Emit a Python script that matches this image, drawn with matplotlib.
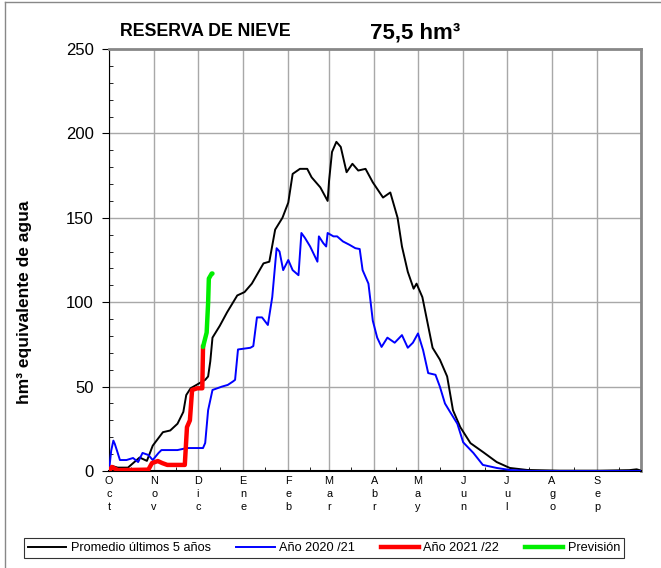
import matplotlib
matplotlib.use("Agg")
import matplotlib.pyplot as plt
from matplotlib.lines import Line2D
import numpy as np

plt.rcParams['font.family'] = ['Liberation Sans', 'DejaVu Sans']

# Days since 1 October
month_starts = [0, 31, 61, 92, 123, 151, 182, 212, 243, 273, 304, 335, 365]
month_labels = ["Oct", "Nov", "Dic", "Ene", "Feb", "Mar", "Abr", "May", "Jun", "Jul", "Ago", "Sep"]

avg_days = [0, 2, 6, 13, 21, 26, 30, 37, 42, 47, 51, 53, 56, 60, 66, 68, 69.5, 71, 76, 81, 88,
            93, 98, 102, 106, 110, 114, 119, 123, 126, 131, 136, 139, 145, 150, 151, 153,
            156, 159, 163, 167, 171, 176, 181, 188, 193, 198, 201, 205, 209, 211, 215, 222,
            227, 232, 236, 241, 248, 257, 266, 275, 287, 309, 337, 357, 362, 364]
avg_vals = [0, 3, 2, 2, 8, 6, 15, 23, 24, 28, 35, 45, 49, 51, 54, 56, 65, 79, 86, 94, 104,
            106, 111, 117, 123, 124, 143, 150, 159, 176, 179, 179, 174, 168, 160, 172, 189,
            195, 192, 177, 182, 178, 179, 171, 162, 165, 150, 133, 118, 108, 111, 103, 73,
            66, 56, 36, 26, 16.5, 11, 5.3, 1.8, 0.6, 0.2, 0.2, 0.5, 1.0, 0.5]

y2021_days = [0, 1.5, 3, 4, 5.5, 7.5, 12, 16.5, 20, 23, 27, 30, 34, 36, 47, 53.5, 64.5, 66,
              68, 71, 77.5, 81.5, 85, 86.5, 88.5, 97, 99, 101.5, 105, 109, 112, 115, 117,
              119.5, 123, 126, 130, 132, 134.5, 138, 143, 144, 147, 149, 150, 154, 156.5,
              160.5, 165, 169, 172, 174, 178, 181, 184, 187, 191, 196, 201, 205, 208.5, 212,
              215.5, 219, 224, 227, 230.5, 234, 239, 243, 250, 256.5, 266, 275, 290, 365]
y2021_vals = [0, 12, 18, 16, 12, 6.5, 6.5, 7.7, 5.3, 10.7, 9.5, 6.5, 10.7, 12.4, 12.4, 13.6,
              13.6, 16.6, 36, 48, 50, 51, 53, 54, 72, 73, 74, 91, 91, 86.5, 103, 132, 130,
              119, 125, 119, 116, 141, 138, 133, 124, 139, 135, 133, 141, 139, 139, 136, 134,
              132, 131.5, 119, 111, 89, 79, 73.5, 79, 76, 80.5, 73, 76, 81.5, 71.6, 58, 57,
              50, 40, 35, 28, 17, 10.7, 3.6, 1.8, 0.6, 0, 0]

y2122_days = [0, 2, 6, 27, 29.5, 31.5, 33.5, 36.5, 40, 43, 52, 53.5, 55.5, 57, 60.5, 64, 64.5]
y2122_vals = [0, 2.4, 0.5, 0.8, 4.7, 5.3, 5.9, 4.7, 3.6, 3.6, 3.6, 26, 30, 48, 49, 49, 73.5]

prev_days = [64.5, 67, 68, 68.5, 70.5, 71]
prev_vals = [73.5, 82, 99.5, 114, 117, 117]

fig = plt.figure(figsize=(6.61, 5.68), dpi=100)
ax = fig.add_axes([109 / 661, 1 - 471 / 568, 532 / 661, 422 / 568])

ax.set_xlim(0, 365)
ax.set_ylim(0, 250)

ax.set_xticks(month_starts)
ax.set_xticklabels([])
ax.set_xticks([d + 15 for d in month_starts[:-1]], minor=True)
ax.set_yticks([0, 50, 100, 150, 200, 250])
ax.set_yticks(np.arange(0, 251, 10), minor=True)
ax.tick_params(axis='y', which='major', labelsize=12, direction='out', length=5, pad=6)
ax.tick_params(axis='y', which='minor', direction='in', length=3)
ax.tick_params(axis='x', which='major', direction='in', length=0)
ax.tick_params(axis='x', which='minor', direction='in', length=3)

ax.grid(True, which='major', color='#a8a8a8', linewidth=1.0)
ax.set_axisbelow(True)

for s in ['top', 'right']:
    ax.spines[s].set_color('#888888')
    ax.spines[s].set_linewidth(2)
ax.spines['left'].set_color('black')
ax.spines['bottom'].set_color('black')
ax.spines['bottom'].set_linewidth(1.5)

ax.plot(avg_days, avg_vals, color='black', linewidth=1.4, zorder=3)
ax.plot(y2021_days, y2021_vals, color='#0000ff', linewidth=1.4, zorder=4)
ax.plot(y2122_days, y2122_vals, color='#ff0000', linewidth=3.2, zorder=5,
        solid_joinstyle='round')
ax.plot(prev_days, prev_vals, color='#00ee00', linewidth=3.2, zorder=5,
        solid_capstyle='round')

for d, lab in zip(month_starts[:-1], month_labels):
    ax.text(d, -3, "\n".join(lab), ha='center', va='top', fontsize=7.8,
            linespacing=1.4, transform=ax.transData, clip_on=False)

ax.set_ylabel("hm³ equivalente de agua", fontsize=12.5, fontweight='bold')
ax.yaxis.set_label_coords(-0.145, 0.40)

fig.text(120 / 661, 1 - 32 / 568, "RESERVA DE NIEVE", fontsize=12.8, fontweight='bold',
         ha='left', va='center')
fig.text(370 / 661, 1 - 33 / 568, "75,5 hm³", fontsize=16, fontweight='bold',
         ha='left', va='center')

handles = [Line2D([], [], color='black', linewidth=1.4),
           Line2D([], [], color='#0000ff', linewidth=1.4),
           Line2D([], [], color='#ff0000', linewidth=3.2),
           Line2D([], [], color='#00ee00', linewidth=3.2)]
labels = ["Promedio últimos 5 años", "Año 2020 /21", "Año 2021 /22", "Previsión"]
leg = fig.legend(handles, labels, loc='center', ncol=4, fontsize=9.2,
                 bbox_to_anchor=(324 / 661, 1 - 548 / 568), frameon=True, fancybox=False,
                 edgecolor='black', handlelength=3.0, handletextpad=0.35, columnspacing=2.0,
                 borderpad=0.35, borderaxespad=0)
leg.get_frame().set_linewidth(0.8)

# outer chart frame (partially visible)
fig.add_artist(Line2D([5 / 661, 5 / 661], [0, 1 - 2 / 568], color='#888888', linewidth=1,
                      transform=fig.transFigure))
fig.add_artist(Line2D([5 / 661, 1], [1 - 2 / 568, 1 - 2 / 568], color='#888888', linewidth=1,
                      transform=fig.transFigure))

fig.savefig("out.png", dpi=100)
